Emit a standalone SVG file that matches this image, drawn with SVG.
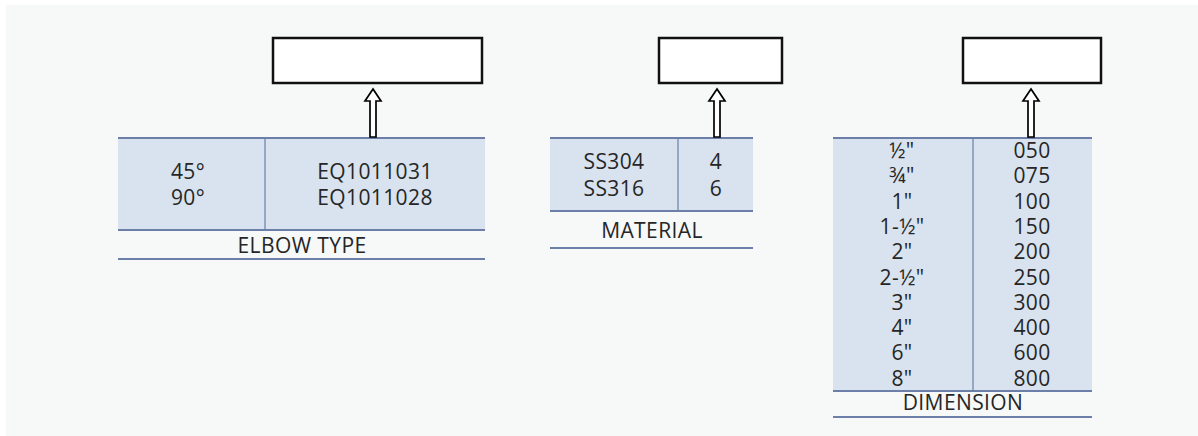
<svg xmlns="http://www.w3.org/2000/svg" width="1198" height="436" viewBox="0 0 1198 436">
<defs>
<style>
.bg{fill:#f7f8f8}
.cell{fill:#d8e3ef}
.rule{stroke:#6b7fa8;stroke-width:2;fill:none}
.div{stroke:#6b7fa8;stroke-width:1.2;fill:none}
.box{fill:#ffffff;stroke:#111111;stroke-width:2.5}
.arrow{fill:#ffffff;stroke:#000000;stroke-width:1.7;stroke-linejoin:miter}
text{font-family:"Open Sans","Noto Sans","DejaVu Sans",sans-serif;font-size:21px;letter-spacing:0.4px;fill:#262626;text-anchor:middle}
</style>
</defs>
<rect x="0" y="0" width="1198" height="436" fill="#ffffff"/>
<rect class="bg" x="6" y="5" width="1192" height="431"/>

<g id="elbow-type">
<rect class="cell" x="118" y="138" width="367" height="92"/>
<line class="div" x1="265" y1="138" x2="265" y2="230"/>
<line class="rule" x1="118" y1="138" x2="485" y2="138"/>
<line class="rule" x1="118" y1="230" x2="485" y2="230"/>
<line class="rule" x1="118" y1="259" x2="485" y2="259"/>
<text x="188" y="179">45°</text>
<text x="188" y="205">90°</text>
<text x="375" y="179">EQ1011031</text>
<text x="375" y="205">EQ1011028</text>
<text x="302" y="253">ELBOW TYPE</text>
</g>

<g id="material">
<rect class="cell" x="550" y="138" width="203" height="73"/>
<line class="div" x1="678" y1="138" x2="678" y2="211"/>
<line class="rule" x1="550" y1="138" x2="753" y2="138"/>
<line class="rule" x1="550" y1="211" x2="753" y2="211"/>
<line class="rule" x1="550" y1="248" x2="753" y2="248"/>
<text x="614" y="169">SS304</text>
<text x="614" y="196">SS316</text>
<text x="716" y="169">4</text>
<text x="716" y="196">6</text>
<text x="652" y="238">MATERIAL</text>
</g>

<g id="dimension">
<rect class="cell" x="833" y="138" width="259" height="253"/>
<line class="div" x1="973" y1="138" x2="973" y2="391"/>
<line class="rule" x1="833" y1="138" x2="1092" y2="138"/>
<line class="rule" x1="833" y1="391" x2="1092" y2="391"/>
<line class="rule" x1="833" y1="417" x2="1092" y2="417"/>
<text x="902" y="158">½"</text>
<text x="902" y="183.3">¾"</text>
<text x="902" y="208.6">1"</text>
<text x="902" y="233.9">1-½"</text>
<text x="902" y="259.2">2"</text>
<text x="902" y="284.5">2-½"</text>
<text x="902" y="309.8">3"</text>
<text x="902" y="335.1">4"</text>
<text x="902" y="360.4">6"</text>
<text x="902" y="386">8"</text>
<text x="1032" y="158">050</text>
<text x="1032" y="183.3">075</text>
<text x="1032" y="208.6">100</text>
<text x="1032" y="233.9">150</text>
<text x="1032" y="259.2">200</text>
<text x="1032" y="284.5">250</text>
<text x="1032" y="309.8">300</text>
<text x="1032" y="335.1">400</text>
<text x="1032" y="360.4">600</text>
<text x="1032" y="386">800</text>
<text x="963" y="410">DIMENSION</text>
</g>

<g id="box-elbow"><rect class="box" x="273" y="38" width="209" height="45"/></g>
<g id="box-material"><rect class="box" x="659" y="38" width="123" height="45"/></g>
<g id="box-dimension"><rect class="box" x="963" y="38" width="138" height="45"/></g>

<g id="connectors">
<path class="arrow" d="M373,89 L381,101 L376,101 L376,137 L370,137 L370,101 L365,101 Z"/>
<path class="arrow" d="M717,89 L725,101 L720,101 L720,137 L714,137 L714,101 L709,101 Z"/>
<path class="arrow" d="M1031,89 L1039,101 L1034,101 L1034,137 L1028,137 L1028,101 L1023,101 Z"/>
</g>
</svg>
